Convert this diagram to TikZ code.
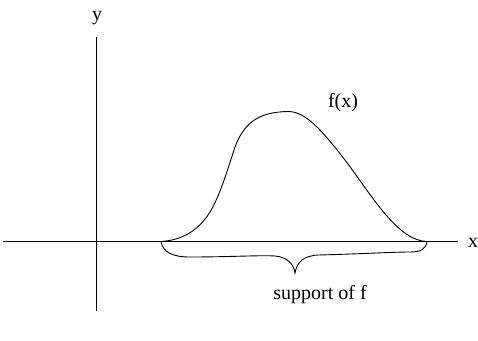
\documentclass[tikz,border=0pt]{standalone}
\usepackage{fontspec}
\setmainfont{Liberation Serif}
\tikzset{
  axis/.style={line width=0.9pt, black},
  crv/.style={line width=0.9pt, black},
  lbl/.style={inner sep=0pt, anchor=base, font=\fontsize{20}{24}\selectfont}
}
\begin{document}
\begin{tikzpicture}[x=1pt,y=-1pt]
\useasboundingbox (0,0) rectangle (478,340);
% axes
\coordinate (xl) at (3,241);
\coordinate (xr) at (458,241);
\coordinate (yt) at (96.5,37);
\coordinate (yb) at (96.5,311);
\draw[axis] (xl) -- (xr);
\draw[axis] (yt) -- (yb);
\node[lbl] (ylab) at (97,20) {y};
\node[lbl] (xlab) at (473,247) {x};
% curve
\coordinate (c0) at (161,241.5);
\coordinate (c9) at (427,241.5);
\draw[crv] (c0) .. controls (185,240) and (200,228) .. (210,212)
  .. controls (220,196) and (229,165) .. (235,147)
  .. controls (245,120) and (262,112) .. (288,111.5)
  .. controls (305,111.5) and (320,128) .. (345,160)
  .. controls (372,196) and (398,241) .. (c9);
\node[lbl] (flab) at (343,107) {f(x)};
% brace
\coordinate (tip) at (295,273);
\draw[crv] (c0) .. controls (163,252) and (172,257) .. (190,257)
  .. controls (230,257) and (262,255) .. (275,256)
  .. controls (288,257) and (294,265) .. (tip)
  .. controls (297,262) and (303,256) .. (318,255)
  .. controls (360,254) and (392,252) .. (410,252)
  .. controls (421,252) and (426,249) .. (c9);
\node[lbl] (slab) at (320,299) {support of f};
\end{tikzpicture}
\end{document}
